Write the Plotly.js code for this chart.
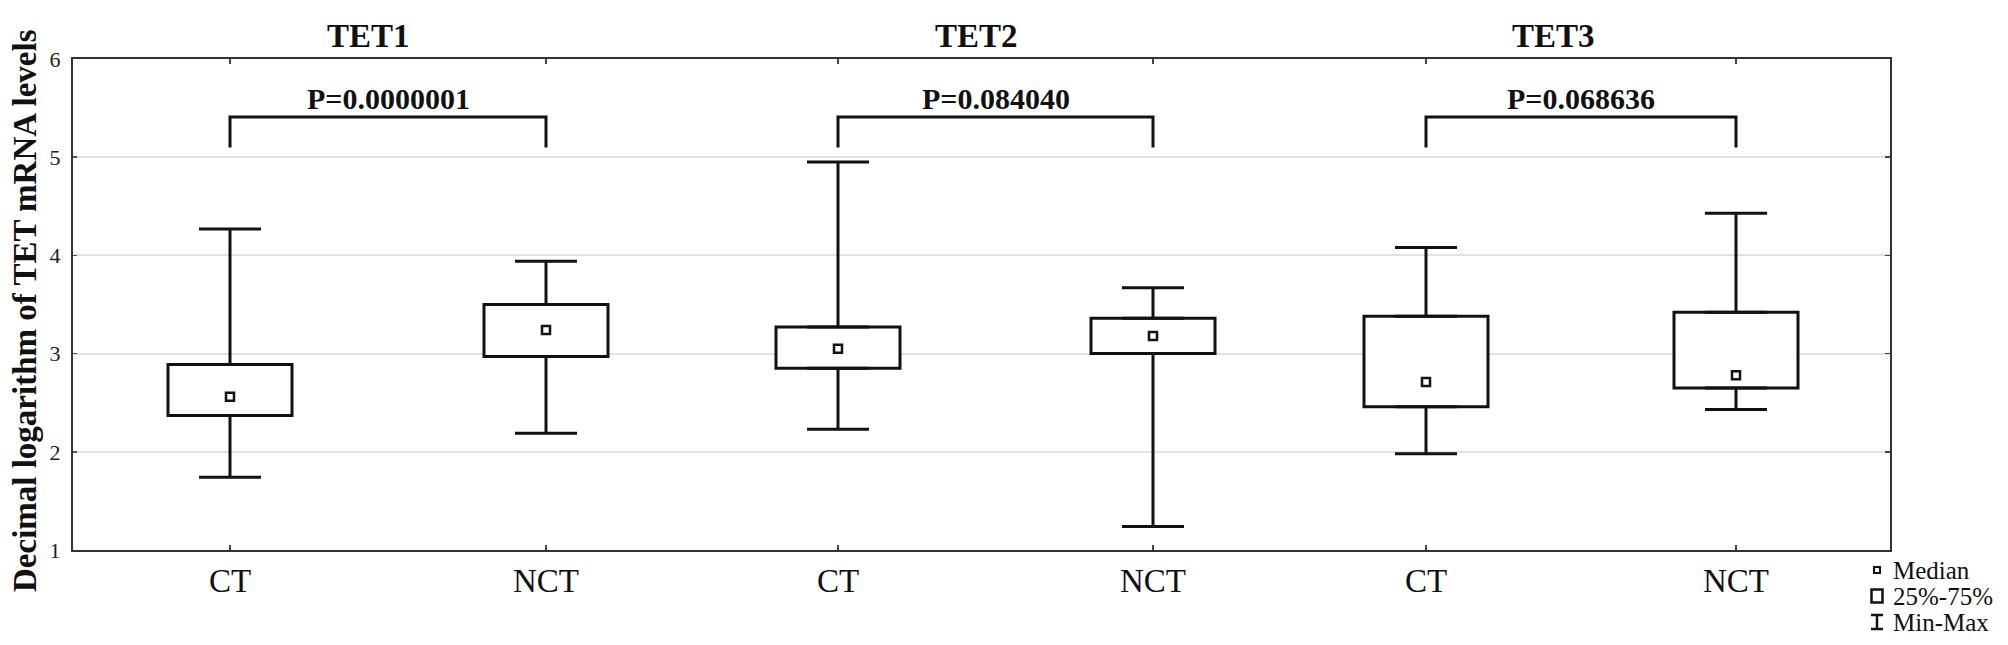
<!DOCTYPE html>
<html>
<head>
<meta charset="utf-8">
<script src="https://cdn.plot.ly/plotly-3.0.1.min.js"></script>
<style>
  html, body { margin: 0; padding: 0; background: #ffffff; }
  #chart { width: 2008px; height: 645px; }
</style>
</head>
<body>
<div id="chart"></div>
<script>
// ---------------- data ----------------
const genes = ["TET1", "TET2", "TET3"];
const groups = ["CT", "NCT"];
const pValueLabels = ["P=0.0000001", "P=0.084040", "P=0.068636"];
// order: TET1 CT, TET1 NCT, TET2 CT, TET2 NCT, TET3 CT, TET3 NCT
const minValues    = [1.74, 2.19, 2.23, 1.24, 1.98, 2.43];
const q1Values     = [2.37, 2.97, 2.85, 3.00, 2.46, 2.65];
const medianValues = [2.56, 3.24, 3.05, 3.18, 2.71, 2.78];
const q3Values     = [2.89, 3.50, 3.27, 3.36, 3.38, 3.42];
const maxValues    = [4.27, 3.94, 4.95, 3.67, 4.08, 4.43];
const yTickValues = [1, 2, 3, 4, 5, 6];
const legendLabels = ["Median", "25%-75%", "Min-Max"];
const yAxisTitle = "Decimal logarithm of TET mRNA levels";

// ---------------- layout constants (pixels) ----------------
const W = 2008, H = 645;
const plotL = 73, plotR = 1890, plotT = 59, plotB = 550;
const plotW = plotR - plotL, plotH = plotB - plotT;
const catPx = [[230, 546], [838, 1153], [1426, 1736]];
const panelEdges = [plotL, 692, 1289.5, plotR];
const titlePx = [368, 976, 1553];
const boxPx = 124;        // box width (stroke centre to centre)
const capHalfPx = 31;     // half width of whisker caps
const bracketLow = 5.10, bracketHigh = 5.41, pLabelY = 5.60;
const FONT = "Liberation Serif, 'Times New Roman', Times, serif";

const px2paperX = p => (p - plotL) / plotW;
const px2paperY = p => (plotB - p) / plotH;

const traces = [];
const layout = {
  width: W, height: H, autosize: false,
  margin: {l: plotL, r: W - plotR, t: plotT, b: H - plotB, pad: 0},
  paper_bgcolor: "#ffffff", plot_bgcolor: "#ffffff",
  showlegend: false, hovermode: false,
  font: {family: FONT, color: "#111"},
  annotations: [], shapes: []
};

genes.forEach((g, i) => {
  const xa = i === 0 ? "x" : "x" + (i + 1);
  const ya = i === 2 ? "y2" : "y";
  const sl = a => a.slice(2 * i, 2 * i + 2);
  const mn = sl(minValues), q1 = sl(q1Values), md = sl(medianValues),
        q3 = sl(q3Values), mx = sl(maxValues);
  const s = catPx[i][1] - catPx[i][0];

  // 25%-75% boxes
  traces.push({
    type: "bar", x: groups, base: q1, y: q3.map((v, k) => v - q1[k]),
    xaxis: xa, yaxis: ya, width: boxPx / s,
    marker: {color: "#ffffff", line: {color: "#111", width: 3}}
  });
  // upper whiskers (q3 -> max)
  traces.push({
    type: "scatter", mode: "markers", x: groups, y: q3, xaxis: xa, yaxis: ya,
    marker: {size: 1, opacity: 0},
    error_y: {type: "data", symmetric: false, array: mx.map((v, k) => v - q3[k]),
              arrayminus: [0, 0], color: "#111", thickness: 3, width: capHalfPx}
  });
  // lower whiskers (min -> q1)
  traces.push({
    type: "scatter", mode: "markers", x: groups, y: q1, xaxis: xa, yaxis: ya,
    marker: {size: 1, opacity: 0},
    error_y: {type: "data", symmetric: false, array: [0, 0],
              arrayminus: q1.map((v, k) => v - mn[k]), color: "#111", thickness: 3, width: capHalfPx}
  });
  // medians
  traces.push({
    type: "scatter", mode: "markers", x: groups, y: md, xaxis: xa, yaxis: ya,
    marker: {symbol: "square-open", size: 8, color: "#111", line: {width: 2.5, color: "#111"}}
  });
  // significance bracket
  traces.push({
    type: "scatter", mode: "lines", xaxis: xa, yaxis: ya,
    x: [groups[0], groups[0], groups[1], groups[1]],
    y: [bracketLow, bracketHigh, bracketHigh, bracketLow],
    line: {color: "#111", width: 3}
  });

  const r0 = -(catPx[i][0] - panelEdges[i]) / s;
  const r1 = (panelEdges[i + 1] - catPx[i][0]) / s;
  layout[i === 0 ? "xaxis" : "xaxis" + (i + 1)] = {
    domain: [px2paperX(panelEdges[i]), px2paperX(panelEdges[i + 1])],
    anchor: ya, type: "category", categoryorder: "array", categoryarray: groups,
    range: [r0, r1], fixedrange: true,
    showline: true, linecolor: "#333", linewidth: 2, mirror: "ticks",
    ticks: "inside", ticklen: 5, tickwidth: 1.5, tickcolor: "#444",
    showgrid: false, zeroline: false,
    tickfont: {family: FONT, size: 33, color: "#111"}
  };

  layout.annotations.push({
    xref: "paper", yref: "paper", x: px2paperX(titlePx[i]), y: px2paperY(36),
    xanchor: "center", yanchor: "middle", showarrow: false,
    text: "<b>" + g + "</b>", font: {family: FONT, size: 33, color: "#111"}
  });
  layout.annotations.push({
    xref: xa, yref: ya, x: 0.5, y: pLabelY,
    xanchor: "center", yanchor: "middle", showarrow: false,
    text: "<b>" + pValueLabels[i] + "</b>", font: {family: FONT, size: 30, color: "#111"}
  });
});

layout.yaxis = {
  domain: [0, 1], anchor: "x", range: [1, 6], fixedrange: true,
  tickvals: yTickValues, ticks: "inside", ticklen: 4, tickwidth: 1.5, tickcolor: "#555",
  ticklabelstandoff: 6,
  showline: true, linecolor: "#333", linewidth: 2,
  showgrid: true, gridcolor: "#e2e2e2", gridwidth: 2, zeroline: false,
  tickfont: {family: FONT, size: 22, color: "#222"}
};
layout.yaxis2 = {
  domain: [0, 1], anchor: "x3", side: "right", range: [1, 6], fixedrange: true,
  tickvals: yTickValues, ticks: "inside", ticklen: 5, tickwidth: 1.5, tickcolor: "#444",
  showticklabels: false,
  showline: true, linecolor: "#333", linewidth: 2,
  showgrid: true, gridcolor: "#e2e2e2", gridwidth: 2, zeroline: false
};

// y-axis title
layout.annotations.push({
  xref: "paper", yref: "paper", x: px2paperX(25), y: px2paperY(311),
  xanchor: "center", yanchor: "middle", textangle: -90, showarrow: false,
  text: "<b>" + yAxisTitle + "</b>", font: {family: FONT, size: 33, color: "#111"}
});

// legend (key)
const legendRowPx = [570, 596, 622];
const legendSymX = px2paperX(1877);
legendLabels.forEach((lab, k) => {
  layout.annotations.push({
    xref: "paper", yref: "paper", x: px2paperX(1891), y: px2paperY(legendRowPx[k]),
    xanchor: "left", yanchor: "middle", showarrow: false,
    text: lab, font: {family: FONT, size: 25, color: "#111"}
  });
});
const pxShape = (yPx, ext) => Object.assign({
  xref: "paper", yref: "paper", xsizemode: "pixel", ysizemode: "pixel",
  xanchor: legendSymX, yanchor: px2paperY(yPx)
}, ext);
layout.shapes.push(pxShape(legendRowPx[0], {type: "rect", x0: -3, x1: 3, y0: -3, y1: 3, line: {color: "#111", width: 2}}));
layout.shapes.push(pxShape(legendRowPx[1], {type: "rect", x0: -5.5, x1: 5.5, y0: -6.5, y1: 6.5, line: {color: "#111", width: 2.5}}));
layout.shapes.push(pxShape(legendRowPx[2], {type: "line", x0: 0, x1: 0, y0: -7, y1: 7, line: {color: "#111", width: 2.5}}));
layout.shapes.push(pxShape(legendRowPx[2], {type: "line", x0: -6, x1: 6, y0: 7, y1: 7, line: {color: "#111", width: 2.5}}));
layout.shapes.push(pxShape(legendRowPx[2], {type: "line", x0: -6, x1: 6, y0: -7, y1: -7, line: {color: "#111", width: 2.5}}));

Plotly.newPlot("chart", traces, layout, {displayModeBar: false, staticPlot: true});
</script>
</body>
</html>
